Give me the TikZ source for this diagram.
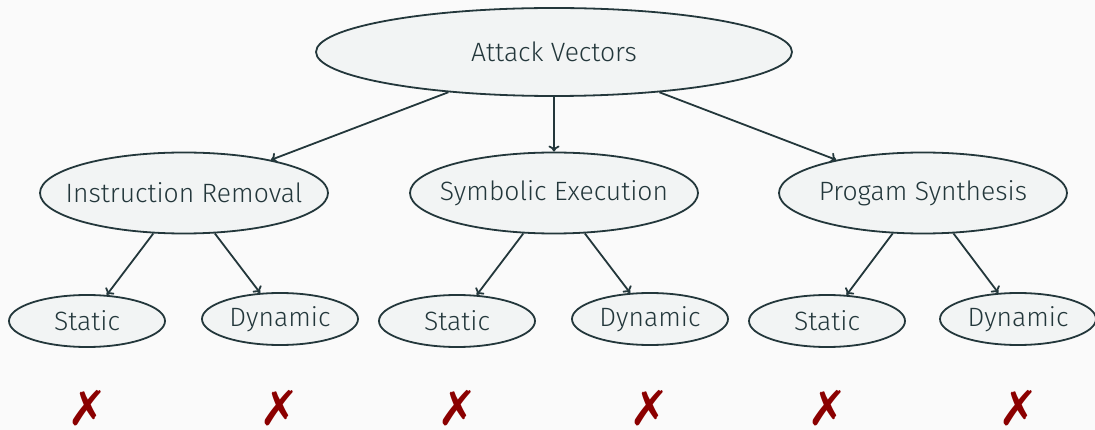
\documentclass[tikz,border=0pt]{standalone}
\usepackage{fontspec}
\setmainfont{Fira Sans Light}
\newfontfamily\symfont{DejaVu Sans}
\usetikzlibrary{shapes.geometric,arrows.meta}
\definecolor{mteal}{HTML}{23373B}
\definecolor{bgc}{HTML}{FAFAFA}
\definecolor{fillc}{HTML}{F2F4F4}
\definecolor{crossc}{HTML}{8B0000}
\newcommand{\lblfont}{\fontsize{26.5}{30}\selectfont}
\tikzset{
  ell/.style={ellipse, draw=mteal, fill=fillc, line width=1.8pt, inner sep=0pt, text=mteal, font=\lblfont},
  top/.style={ell, minimum width=476pt, minimum height=88pt},
  mid/.style={ell, minimum width=288pt, minimum height=81pt},
  leaf/.style={ell, minimum width=156pt, minimum height=52pt},
  conn/.style={draw=mteal, line width=1.8pt, -{To[length=6pt,width=11pt]}},
  cross/.style={text=crossc, font=\symfont\bfseries\fontsize{48}{52}\selectfont, inner sep=0pt, text height=36pt, text depth=0pt, anchor=base}
}
\begin{document}
\begin{tikzpicture}[x=1pt,y=-1pt]
\fill[bgc] (0,0) rectangle (1095,430);
\useasboundingbox (0,0) rectangle (1095,430);
\node[top, label={center:\textcolor{mteal}{\lblfont Attack Vectors}}] (av) at (554,52) {};
\node[mid, label={center:\textcolor{mteal}{\lblfont Instruction Removal}}] (ir) at (184,193) {};
\node[mid, label={center:\textcolor{mteal}{\lblfont Symbolic Execution}}] (se) at (554,193) {};
\node[mid, label={center:\textcolor{mteal}{\lblfont Progam Synthesis}}] (ps) at (923,193) {};
\node[leaf] (s1) at (87,321) {Static};
\node[leaf] (d1) at (280,319) {Dynamic};
\node[leaf] (s2) at (457,321) {Static};
\node[leaf] (d2) at (650,319) {Dynamic};
\node[leaf] (s3) at (827,321) {Static};
\node[leaf] (d3) at (1018,319) {Dynamic};
\draw[conn] (av) -- (ir);
\draw[conn] (av) -- (se);
\draw[conn] (av) -- (ps);
\draw[conn] (ir) -- (s1);
\draw[conn] (ir) -- (d1);
\draw[conn] (se) -- (s2);
\draw[conn] (se) -- (d2);
\draw[conn] (ps) -- (s3);
\draw[conn] (ps) -- (d3);
\node[cross] (x1) at (88,425) {✗};
\node[cross] (x2) at (280,425) {✗};
\node[cross] (x3) at (458,425) {✗};
\node[cross] (x4) at (650,425) {✗};
\node[cross] (x5) at (828,425) {✗};
\node[cross] (x6) at (1019,425) {✗};
\end{tikzpicture}
\end{document}
